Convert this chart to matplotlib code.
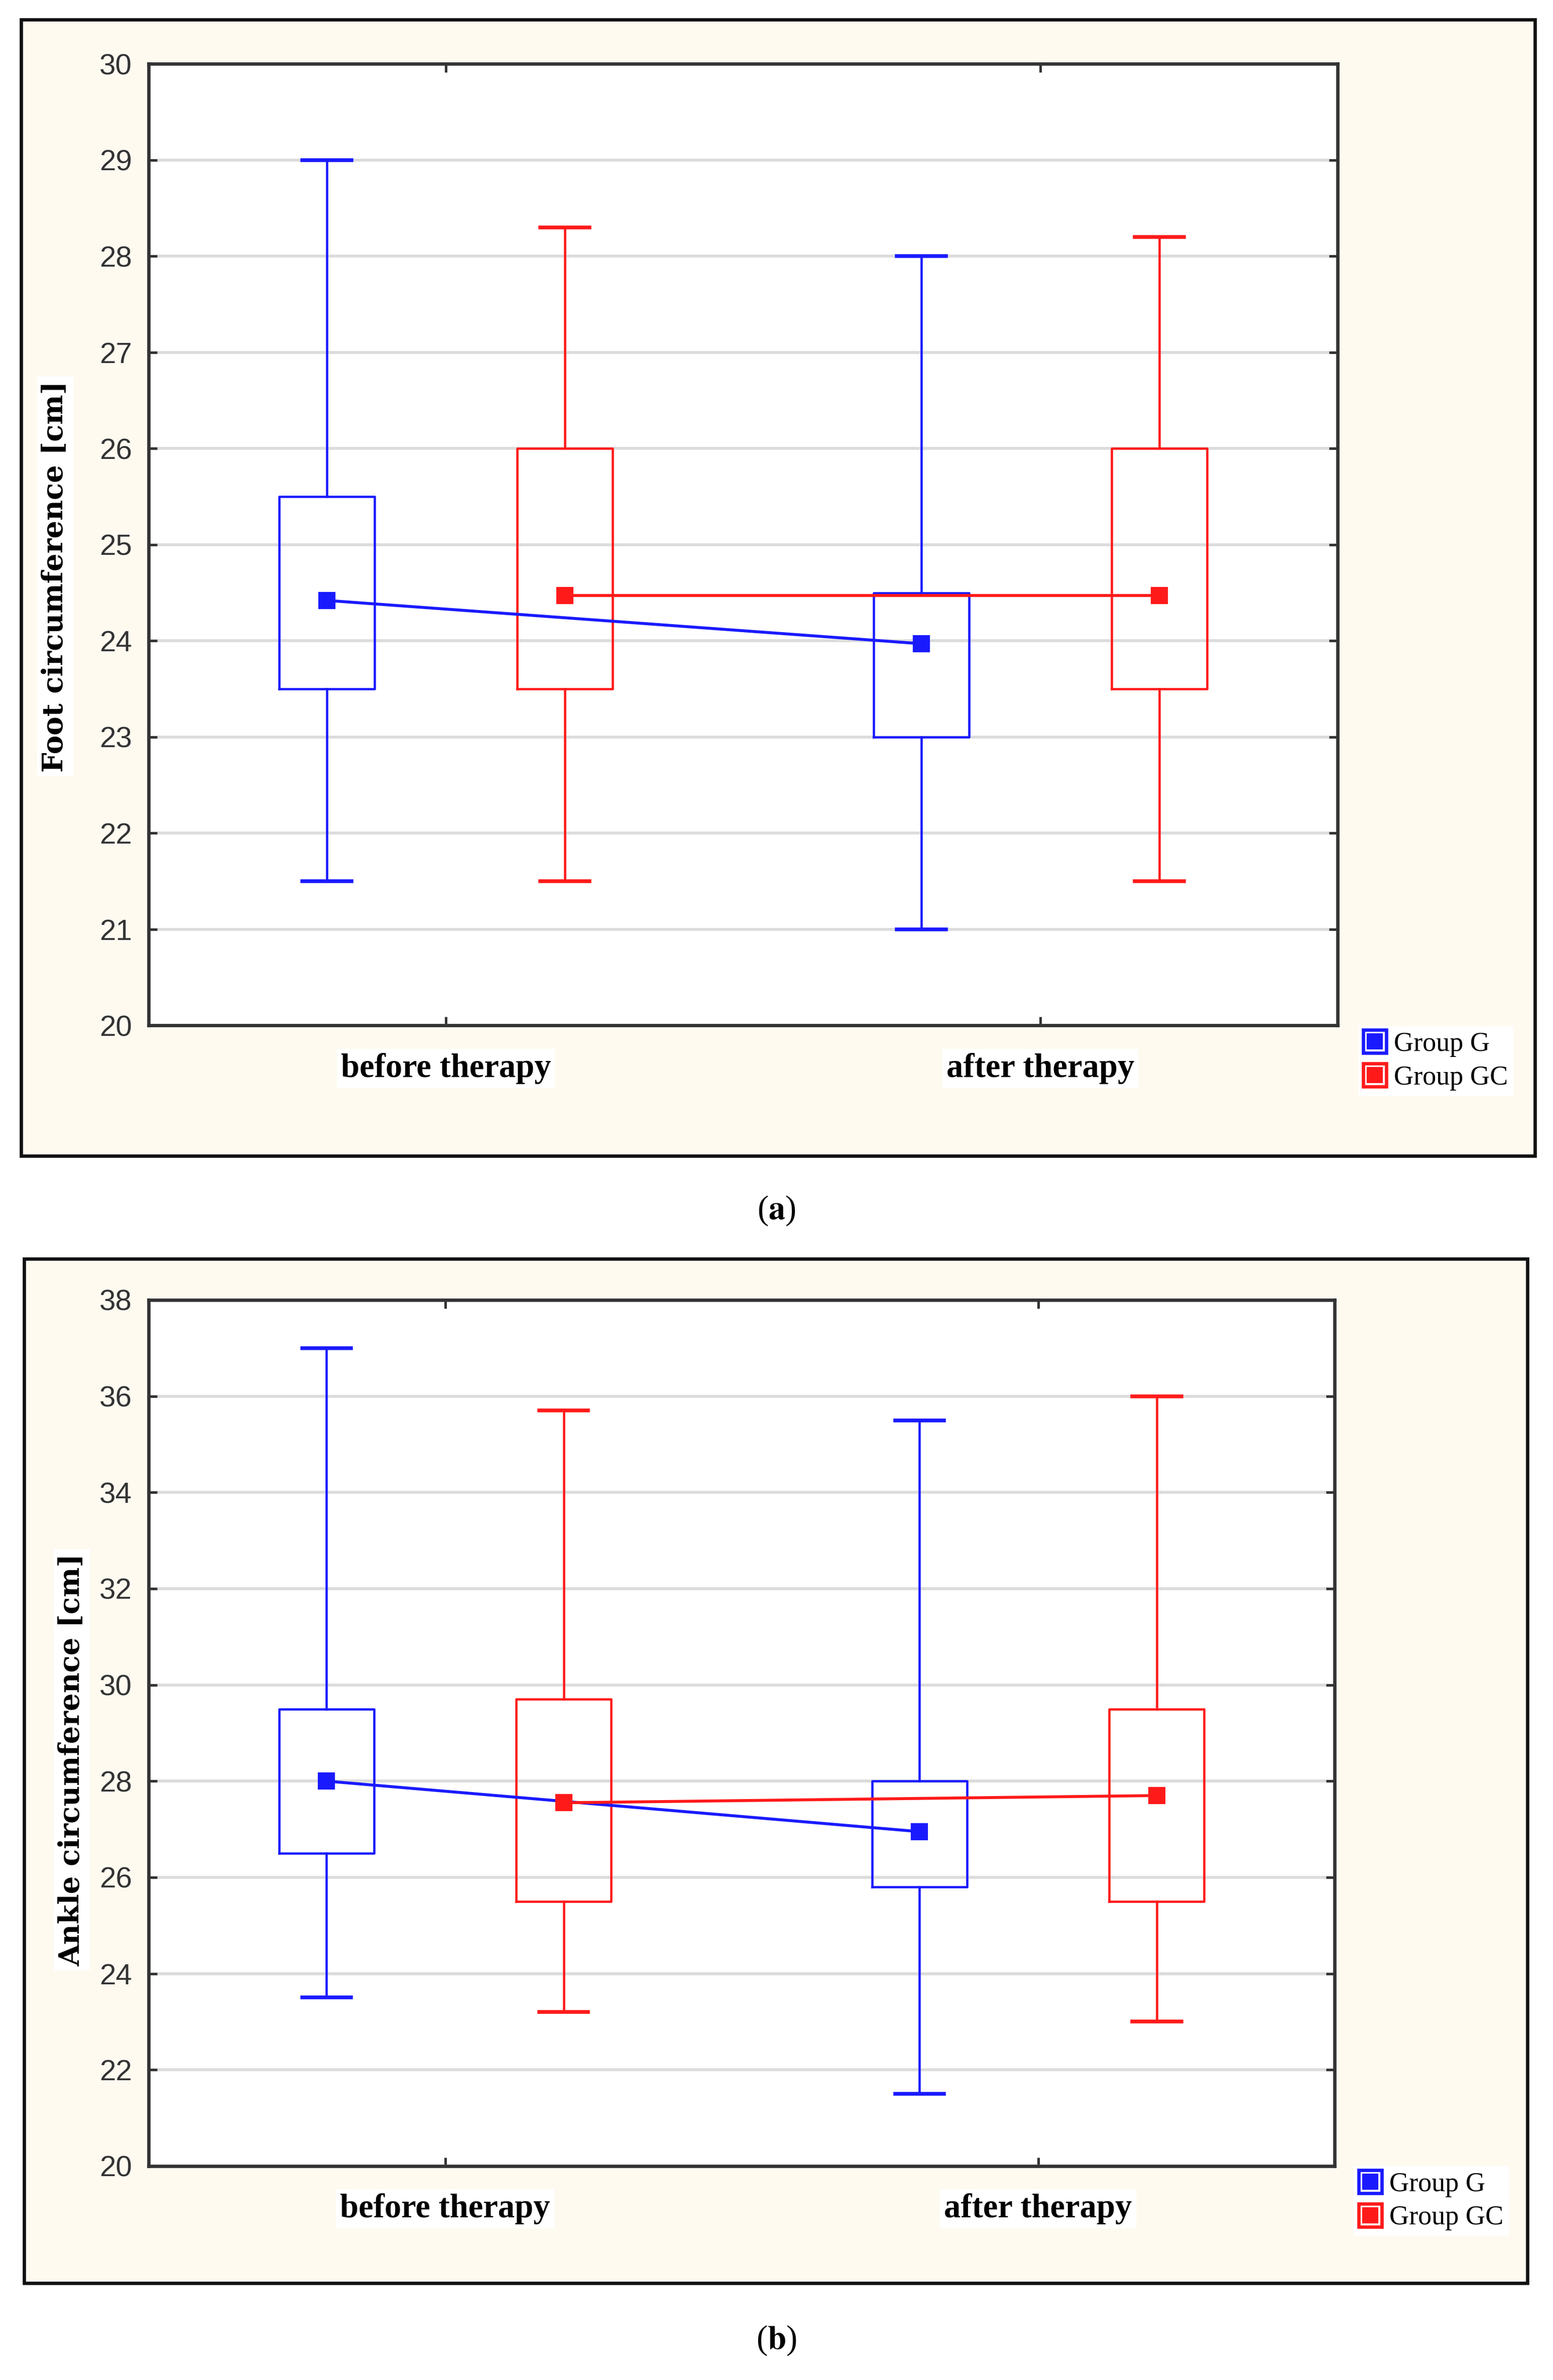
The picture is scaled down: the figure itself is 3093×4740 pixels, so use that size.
import matplotlib
matplotlib.use('Agg')
import matplotlib.pyplot as plt
from matplotlib.patches import Rectangle
from matplotlib.lines import Line2D
from matplotlib.legend_handler import HandlerTuple

plt.rcParams['mathtext.fontset'] = 'stix'

# ─────────────────────────────────────────────
# DATA
# ─────────────────────────────────────────────
categories = ["before therapy", "after therapy"]
groups = ["Group G", "Group GC"]

# panel (a) foot circumference [cm]
foot_whisk_lo = {"G": [21.5, 21.0], "GC": [21.5, 21.5]}
foot_whisk_hi = {"G": [29.0, 28.0], "GC": [28.3, 28.2]}
foot_q1 = {"G": [23.5, 23.0], "GC": [23.5, 23.5]}
foot_q3 = {"G": [25.5, 24.5], "GC": [26.0, 26.0]}
foot_mean = {"G": [24.42, 23.97], "GC": [24.47, 24.47]}

# panel (b) ankle circumference [cm]
ankle_whisk_lo = {"G": [23.5, 21.5], "GC": [23.2, 23.0]}
ankle_whisk_hi = {"G": [37.0, 35.5], "GC": [35.7, 36.0]}
ankle_q1 = {"G": [26.5, 25.8], "GC": [25.5, 25.5]}
ankle_q3 = {"G": [29.5, 28.0], "GC": [29.7, 29.5]}
ankle_mean = {"G": [28.0, 26.95], "GC": [27.55, 27.7]}

BLUE = "#1a1aff"
RED = "#ff1a1a"
CREAM = "#fefaf0"
colors = {"G": BLUE, "GC": RED}
offsets = {"G": -0.4, "GC": 0.4}
cat_pos = [1, 3]

fig = plt.figure(figsize=(3093 / 300, 4740 / 300), dpi=300)

# background layer for the cream frames
bg = fig.add_axes([0, 0, 1, 1], zorder=-10)
bg.set_xlim(0, 1)
bg.set_ylim(0, 1)
bg.axis("off")


def draw_panel(frame, axrect, lo, hi, q1, q3, mean, yticks, ylabel, ylabel_xy, leg_xy, cap_xy, letter):
    bg.add_patch(Rectangle((frame[0], frame[1]), frame[2], frame[3],
                           facecolor=CREAM, edgecolor="#111111", linewidth=1.6))
    ax = fig.add_axes(axrect, zorder=2)
    ax.set_facecolor("white")
    for key in ["G", "GC"]:
        stats = []
        for i in range(2):
            stats.append({"whislo": lo[key][i], "whishi": hi[key][i],
                          "q1": q1[key][i], "q3": q3[key][i],
                          "med": q1[key][i], "fliers": []})
        pos = [c + offsets[key] for c in cat_pos]
        lp = dict(color=colors[key], linewidth=1.1)
        ax.bxp(stats, positions=pos, widths=0.32, capwidths=0.165,
               showfliers=False, boxprops=lp, whiskerprops=lp,
               capprops=dict(color=colors[key], linewidth=1.8),
               medianprops=dict(linewidth=0), manage_ticks=False, zorder=3)
        ax.plot(pos, mean[key], color=colors[key], linewidth=1.4,
                marker="s", markersize=7, zorder=4)

    ax.set_xlim(0, 4)
    ax.set_ylim(yticks[0], yticks[-1])
    ax.set_yticks(yticks)
    ax.set_xticks(cat_pos)
    ax.set_xticklabels(categories)
    ax.grid(axis="y", color="#dcdcdc", linewidth=1.4, zorder=0)
    ax.set_axisbelow(True)
    for sp in ax.spines.values():
        sp.set_color("#333333")
        sp.set_linewidth(1.6)
    ax.tick_params(axis="both", direction="in", length=4, width=1.2,
                   colors="#333333", top=True, right=True)
    ax.tick_params(axis="y", labelsize=14, pad=8, labelcolor="#333333")
    ax.tick_params(axis="x", labelsize=16, pad=13, labelcolor="black")
    for lab in ax.get_yticklabels():
        lab.set_family(["Liberation Sans Narrow", "Liberation Sans"])
    for lab in ax.get_xticklabels():
        lab.set_family("Liberation Serif")
        lab.set_fontweight("bold")
        lab.set_bbox(dict(facecolor="white", edgecolor="none", pad=2))

    ax.set_ylabel(ylabel, family="DejaVu Serif", fontweight="bold", fontsize=13.5,
                  bbox=dict(facecolor="white", edgecolor="none", pad=2))
    ax.yaxis.set_label_coords(*ylabel_xy)

    handles = []
    for key in ["G", "GC"]:
        outline = Line2D([], [], linestyle="none", marker="s", markersize=11,
                         markerfacecolor="white", markeredgecolor=colors[key],
                         markeredgewidth=1.6)
        inner = Line2D([], [], linestyle="none", marker="s", markersize=6.5,
                       color=colors[key])
        handles.append((outline, inner))
    leg = fig.legend(handles, groups, loc="upper left", bbox_to_anchor=leg_xy,
                     handler_map={tuple: HandlerTuple(ndivide=1, pad=0)},
                     prop={"family": "Liberation Serif", "size": 13},
                     frameon=True, facecolor="white", edgecolor="none", fancybox=False,
                     framealpha=1, handlelength=0.8, handletextpad=0.3,
                     labelspacing=0.3, borderpad=0.2)
    leg.set_zorder(5)

    fig.text(cap_xy[0], cap_xy[1], r"($\mathbf{" + letter + r"}$)", ha="center",
             va="center", fontsize=16, family="Liberation Serif")
    return ax


draw_panel(frame=(0.0137, 0.5143, 0.9745, 0.4774),
           axrect=(0.0957, 0.5691, 0.7656, 0.4041),
           lo=foot_whisk_lo, hi=foot_whisk_hi, q1=foot_q1, q3=foot_q3, mean=foot_mean,
           yticks=list(range(20, 31)), ylabel="Foot circumference [cm]",
           ylabel_xy=(-0.067, 0.467), leg_xy=(0.866, 0.5745),
           cap_xy=(0.5, 0.4914), letter="a")

draw_panel(frame=(0.0156, 0.0408, 0.9678, 0.4302),
           axrect=(0.0957, 0.0899, 0.7637, 0.3639),
           lo=ankle_whisk_lo, hi=ankle_whisk_hi, q1=ankle_q1, q3=ankle_q3, mean=ankle_mean,
           yticks=list(range(20, 39, 2)), ylabel="Ankle circumference [cm]",
           ylabel_xy=(-0.053, 0.469), leg_xy=(0.863, 0.0955),
           cap_xy=(0.5, 0.0166), letter="b")

fig.savefig("out.png", dpi=300, facecolor="white")
